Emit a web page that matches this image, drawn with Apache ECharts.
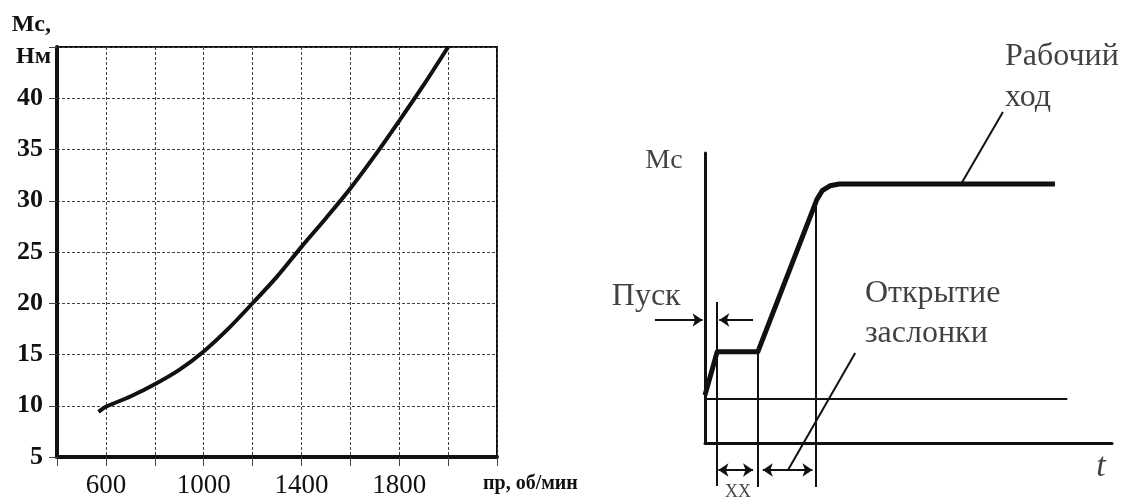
<!DOCTYPE html>
<html>
<head>
<meta charset="utf-8">
<script src="https://cdn.jsdelivr.net/npm/echarts@6/dist/echarts.min.js"></script>
<style>
  html, body { margin: 0; padding: 0; background: #fff; }
  #main { width: 1127px; height: 501px; }
</style>
</head>
<body>
<div id="main"></div>
<script>
// левый график: момент сопротивления от частоты вращения
var rpm = [570, 600, 700, 800, 900, 1000, 1100, 1200, 1300, 1400, 1500, 1600, 1700, 1800, 1900, 2000];
var torque = [9.4, 9.9, 10.9, 12.1, 13.5, 15.3, 17.5, 20.0, 22.6, 25.5, 28.3, 31.2, 34.4, 37.8, 41.3, 45.0];
var rpmLabels = [600, 1000, 1400, 1800];
var torqueLabels = [5, 10, 15, 20, 25, 30, 35, 40];

// правый график: схема нагрузки во времени (условные единицы)
var cycleT = [0, 3, 13, 27.5, 28.8, 30.7, 33, 86];
var cycleM = [16.5, 31.5, 31.5, 84, 87, 88.7, 89.3, 89.3];
var idleLine = [[0, 15.2], [89, 15.2]];
var phaseLines = [
    [[2.95, 48.6], [2.95, -14.8]],
    [[13, 31.4], [13, -15.2]],
    [[27.3, 83], [27.3, -15.2]]
];
var leaderLines = [
    [[73.2, 114.1], [63.1, 89.7]],
    [[36.9, 31], [20.4, -9.3]]
];
var startArrows = [
    [[-12.3, 42.4], [-0.6, 42.4]],
    [[11.8, 42.4], [3.5, 42.4]]
];
var spanArrows = [
    [[3.3, -9.3], [11.8, -9.3]],
    [[14.2, -9.3], [26.4, -9.3]]
];
var noteNames = ['Мс', 'Рабочий', 'ход', 'Пуск', 'Открытие', 'заслонки', 'ХХ', 't'];
var notePos = [[-10.1, 97.5], [73.7, 133.3], [73.7, 119.2], [-22.9, 50.5], [39.3, 51.6], [39.3, 37.6], [8.1, -16.9], [97.3, -8.3]];

var serif = '"Liberation Serif", "DejaVu Serif", serif';
var ink = '#111';

var myChart = echarts.init(document.getElementById('main'));

// стили подписей на схеме
var noteStyle = {
    'Мс': { fontSize: 28, align: 'center' },
    'Рабочий': { fontSize: 32, align: 'left' },
    'ход': { fontSize: 32, align: 'left' },
    'Пуск': { fontSize: 32, align: 'left' },
    'Открытие': { fontSize: 32, align: 'left' },
    'заслонки': { fontSize: 32, align: 'left' },
    'ХХ': { fontSize: 18, align: 'center' },
    't': { fontSize: 34, align: 'center', fontStyle: 'italic' }
};

var notes = noteNames.map(function (name, i) {
    var s = noteStyle[name];
    return {
        name: name,
        value: notePos[i],
        label: {
            fontSize: s.fontSize,
            align: s.align,
            fontStyle: s.fontStyle || 'normal'
        }
    };
});

function toLines(list) {
    return list.map(function (c) { return { coords: c }; });
}

var option = {
    backgroundColor: '#fff',
    animation: false,
    grid: [
        { left: 57, right: 630, top: 47, bottom: 44, show: true, borderColor: ink, borderWidth: 2 },
        { left: 705, right: 15, top: 153, bottom: 58 }
    ],
    xAxis: [
        {
            gridIndex: 0,
            type: 'value',
            min: 400,
            max: 2200,
            interval: 200,
            name: 'пр, об/мин',
            nameLocation: 'end',
            nameGap: -14,
            nameTextStyle: {
                fontFamily: serif, fontWeight: 'bold', fontSize: 20, color: ink,
                align: 'left', verticalAlign: 'top', padding: [17, 0, 0, 0]
            },
            axisLine: { lineStyle: { color: ink, width: 4 } },
            axisTick: { show: true, length: 9, lineStyle: { color: '#444', width: 1 } },
            axisLabel: {
                margin: 15,
                fontFamily: serif, fontSize: 27, color: ink,
                formatter: function (v) { return rpmLabels.indexOf(v) >= 0 ? String(v) : ''; }
            },
            splitLine: { show: true, lineStyle: { color: '#444', width: 1, type: [3, 2] } }
        },
        {
            gridIndex: 1,
            type: 'value',
            min: 0,
            max: 100,
            axisLine: { lineStyle: { color: ink, width: 3 } },
            axisTick: { show: false },
            axisLabel: { show: false },
            splitLine: { show: false }
        }
    ],
    yAxis: [
        {
            gridIndex: 0,
            type: 'value',
            min: 5,
            max: 45,
            interval: 5,
            name: 'Мс,\nНм',
            nameLocation: 'end',
            nameGap: -26,
            nameTextStyle: {
                fontFamily: serif, fontWeight: 'bold', fontSize: 24, color: ink,
                align: 'right', verticalAlign: 'bottom', lineHeight: 32, padding: [0, 6, 0, 0]
            },
            axisLine: { show: true, lineStyle: { color: ink, width: 4 } },
            axisTick: { show: true, length: 8, lineStyle: { color: '#444', width: 1 } },
            axisLabel: {
                margin: 14,
                fontFamily: serif, fontWeight: 'bold', fontSize: 26, color: ink,
                formatter: function (v) { return torqueLabels.indexOf(v) >= 0 ? String(v) : ''; }
            },
            splitLine: { show: true, lineStyle: { color: '#444', width: 1, type: [3, 2] } }
        },
        {
            gridIndex: 1,
            type: 'value',
            min: 0,
            max: 100,
            axisLine: { show: true, lineStyle: { color: ink, width: 3 } },
            axisTick: { show: false },
            axisLabel: { show: false },
            splitLine: { show: false }
        }
    ],
    series: [
        {
            type: 'line',
            xAxisIndex: 0,
            yAxisIndex: 0,
            data: rpm.map(function (x, i) { return [x, torque[i]]; }),
            smooth: 0.3,
            showSymbol: false,
            lineStyle: { color: ink, width: 4 }
        },
        {
            type: 'line',
            xAxisIndex: 1,
            yAxisIndex: 1,
            clip: false,
            data: cycleT.map(function (t, i) { return [t, cycleM[i]]; }),
            showSymbol: false,
            lineStyle: { color: ink, width: 5, join: 'round' }
        },
        {
            type: 'lines',
            coordinateSystem: 'cartesian2d',
            xAxisIndex: 1,
            yAxisIndex: 1,
            clip: false,
            lineStyle: { color: ink, width: 2, opacity: 1 },
            data: toLines([idleLine].concat(phaseLines, leaderLines))
        },
        {
            type: 'lines',
            coordinateSystem: 'cartesian2d',
            xAxisIndex: 1,
            yAxisIndex: 1,
            clip: false,
            symbol: ['none', 'arrow'],
            symbolSize: 10,
            lineStyle: { color: ink, width: 2, opacity: 1 },
            data: toLines(startArrows)
        },
        {
            type: 'lines',
            coordinateSystem: 'cartesian2d',
            xAxisIndex: 1,
            yAxisIndex: 1,
            clip: false,
            symbol: ['arrow', 'arrow'],
            symbolSize: 10,
            lineStyle: { color: ink, width: 2, opacity: 1 },
            data: toLines(spanArrows)
        },
        {
            type: 'scatter',
            xAxisIndex: 1,
            yAxisIndex: 1,
            clip: false,
            symbolSize: 0,
            silent: true,
            label: {
                show: true,
                position: 'inside',
                formatter: '{b}',
                verticalAlign: 'middle',
                fontFamily: serif,
                color: ink
            },
            data: notes
        }
    ]
};

myChart.setOption(option);

window.addEventListener('resize', function () {
    myChart.resize();
});
</script>
</body>
</html>
